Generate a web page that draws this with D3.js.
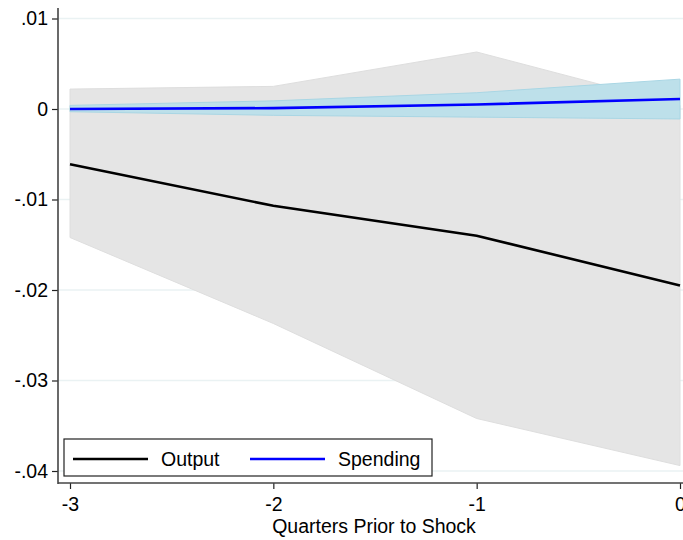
<!DOCTYPE html>
<html>
<head>
<meta charset="utf-8">
<script src="https://cdn.jsdelivr.net/npm/d3@7"></script>
<style>
  body { margin: 0; background: #fff; }
  svg { display: block; font-family: Arial, "Liberation Sans", sans-serif; }
</style>
</head>
<body>
<svg width="683" height="540"></svg>
<script>
"use strict";

const quarters = [-3, -2, -1, 0];
const output = [-0.0061, -0.0107, -0.0140, -0.0195];
const outputLo = [-0.0142, -0.0237, -0.0342, -0.0394];
const outputHi = [0.0022, 0.0025, 0.0063, 0.0004];
const spending = [0.0000, 0.0001, 0.0005, 0.0011];
const spendingLo = [-0.0003, -0.0007, -0.0009, -0.0011];
const spendingHi = [0.0004, 0.0009, 0.0018, 0.0033];
const yTicks = [0.01, 0, -0.01, -0.02, -0.03, -0.04];
const yTickLabels = [".01", "0", "-.01", "-.02", "-.03", "-.04"];
const xAxisLabel = "Quarters Prior to Shock";

const svg = d3.select("svg");
const width = +svg.attr("width");

const left = 58;
const bottom = 483;
const fontSize = "19.5px";

const xScale = d3.scaleLinear().domain([-3, 0]).range([70, 680]);
const yScale = d3.scaleLinear().domain([-0.04, 0.01]).range([471, 18.5]);

// grid
svg.append("g")
  .selectAll("line")
  .data(yTicks)
  .enter()
  .append("line")
  .attr("x1", left)
  .attr("x2", width)
  .attr("y1", d => yScale(d))
  .attr("y2", d => yScale(d))
  .attr("stroke", "#eaf2f3")
  .attr("stroke-width", 1.3);

const rows = quarters.map((q, i) => ({
  q,
  out: output[i], outLo: outputLo[i], outHi: outputHi[i],
  sp: spending[i], spLo: spendingLo[i], spHi: spendingHi[i]
}));

const area = (lo, hi) => d3.area()
  .x(d => xScale(d.q))
  .y0(d => yScale(d[lo]))
  .y1(d => yScale(d[hi]));

const line = key => d3.line()
  .x(d => xScale(d.q))
  .y(d => yScale(d[key]));

svg.append("path")
  .attr("d", area("outLo", "outHi")(rows))
  .attr("fill", "#e5e5e5")
  .attr("stroke", "#dedede")
  .attr("stroke-width", 1);

svg.append("path")
  .attr("d", area("spLo", "spHi")(rows))
  .attr("fill", "#bde0ea")
  .attr("stroke", "#a9d6e4")
  .attr("stroke-width", 1);

svg.append("path")
  .attr("d", line("out")(rows))
  .attr("fill", "none")
  .attr("stroke", "#000")
  .attr("stroke-width", 2.6);

svg.append("path")
  .attr("d", line("sp")(rows))
  .attr("fill", "none")
  .attr("stroke", "#0000ff")
  .attr("stroke-width", 2.6);

// y axis
const yAxis = d3.axisLeft(yScale)
  .tickValues(yTicks)
  .tickSize(6)
  .tickPadding(4)
  .tickFormat((d, i) => yTickLabels[i]);

const yAxisG = svg.append("g")
  .attr("transform", `translate(${left},0)`)
  .call(yAxis);
yAxisG.select(".domain").remove();
yAxisG.selectAll(".tick line").attr("stroke", "#222").attr("stroke-width", 1.2);
yAxisG.selectAll(".tick text")
  .attr("fill", "#000")
  .style("font-size", fontSize)
  .attr("font-family", "Arial, 'Liberation Sans', sans-serif");

svg.append("line")
  .attr("x1", left).attr("x2", left)
  .attr("y1", 8).attr("y2", bottom + 1)
  .attr("stroke", "#444")
  .attr("stroke-width", 1.6);

// x axis
const xAxis = d3.axisBottom(xScale)
  .tickValues(quarters)
  .tickSize(6)
  .tickPadding(8)
  .tickFormat(d3.format("d"));

const xAxisG = svg.append("g")
  .attr("transform", `translate(0,${bottom})`)
  .call(xAxis);
xAxisG.select(".domain").remove();
xAxisG.selectAll(".tick line").attr("stroke", "#222").attr("stroke-width", 1.2);
xAxisG.selectAll(".tick text")
  .attr("fill", "#000")
  .style("font-size", fontSize)
  .attr("font-family", "Arial, 'Liberation Sans', sans-serif")
  .text(d => String(d));

svg.append("line")
  .attr("x1", left).attr("x2", width)
  .attr("y1", bottom).attr("y2", bottom)
  .attr("stroke", "#444")
  .attr("stroke-width", 1.6);

svg.append("text")
  .attr("x", 374)
  .attr("y", 533)
  .attr("text-anchor", "middle")
  .style("font-size", fontSize)
  .text(xAxisLabel);

// legend
const legend = svg.append("g").attr("transform", "translate(64,439)");
legend.append("rect")
  .attr("width", 368)
  .attr("height", 37)
  .attr("fill", "#fff")
  .attr("stroke", "#222")
  .attr("stroke-width", 1.2);

const legendItems = [
  { label: "Output", color: "#000", x: 9 },
  { label: "Spending", color: "#0000ff", x: 186 }
];
legendItems.forEach(it => {
  legend.append("line")
    .attr("x1", it.x).attr("x2", it.x + 75)
    .attr("y1", 20).attr("y2", 20)
    .attr("stroke", it.color)
    .attr("stroke-width", 2.6);
  legend.append("text")
    .attr("x", it.x + 88)
    .attr("y", 27)
    .style("font-size", fontSize)
    .text(it.label);
});
</script>
</body>
</html>
